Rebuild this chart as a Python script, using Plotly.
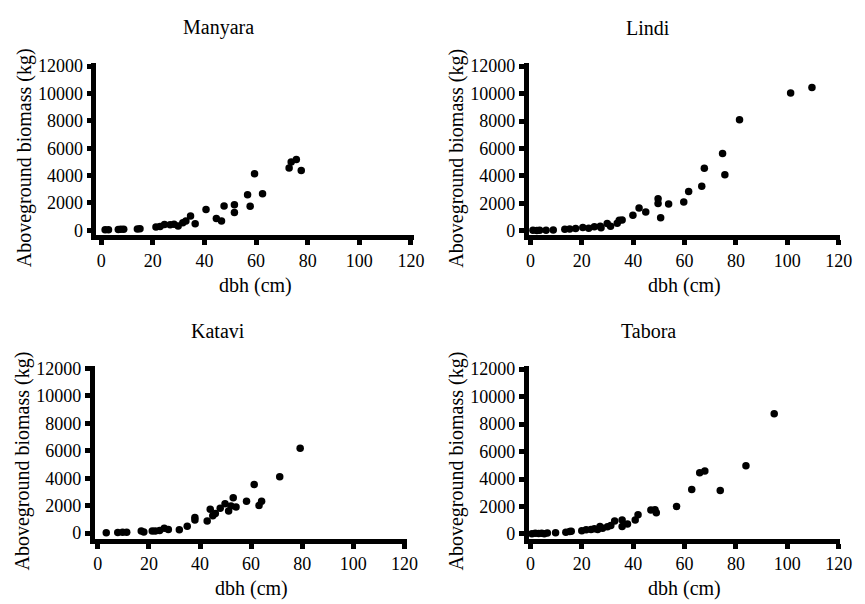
import plotly.graph_objects as go

W, H = 865, 604

# ---------------- data ----------------
manyara_dbh = [1.5, 2.8, 6.6, 7.6, 8.7, 14.0, 15.0, 21.2, 22.8, 24.5, 26.7, 28.2, 29.8, 31.6, 32.8, 34.6,
               36.4, 40.6, 44.6, 46.6, 47.6, 51.6, 51.6, 56.7, 57.7, 59.4, 62.5, 72.8, 73.6, 75.6, 77.5]
manyara_agb = [40, 50, 60, 80, 80, 100, 120, 250, 280, 430, 420, 450, 320, 560, 680, 1050,
               480, 1520, 870, 690, 1780, 1880, 1300, 2610, 1770, 4140, 2680, 4560, 5000, 5170, 4380]

lindi_dbh = [1.0, 2.5, 3.6, 6.1, 8.9, 13.4, 15.3, 17.6, 20.4, 22.7, 24.9, 27.2, 27.5, 29.9, 31.2, 33.8,
             34.6, 35.7, 39.9, 42.3, 44.9, 49.7, 49.7, 50.7, 53.8, 59.7, 61.6, 66.7, 67.7, 74.8, 75.7,
             81.4, 101.3, 109.6]
lindi_agb = [40, 20, 50, 50, 60, 120, 130, 180, 250, 200, 300, 330, 230, 540, 330, 550,
             780, 800, 1130, 1660, 1370, 2340, 1990, 960, 1960, 2100, 2870, 3250, 4560, 5630, 4090,
             8090, 10040, 10440]

katavi_dbh = [3.3, 7.8, 9.7, 11.3, 17.0, 18.0, 21.3, 22.5, 24.2, 26.0, 27.6, 31.9, 35.0, 38.0, 38.0,
              42.8, 44.0, 45.0, 46.0, 47.9, 49.8, 51.2, 52.1, 53.0, 54.1, 58.2, 61.2, 63.1, 64.1, 71.2, 79.2]
katavi_agb = [30, 50, 60, 60, 150, 80, 150, 150, 200, 360, 260, 240, 500, 1140, 950,
              880, 1740, 1260, 1430, 1810, 2140, 1620, 1970, 2570, 1900, 2330, 3540, 2020, 2330, 4110, 6180]

tabora_dbh = [0.6, 1.9, 3.2, 4.4, 5.4, 6.6, 9.8, 13.8, 15.3, 15.9, 20.0, 21.7, 23.6, 24.9, 26.2, 27.1,
              28.1, 30.0, 31.3, 32.8, 35.7, 35.7, 37.8, 40.8, 41.9, 46.9, 48.5, 49.0, 56.9, 62.8, 65.9,
              67.9, 73.9, 83.9, 94.9]
tabora_agb = [20, 40, 30, 40, 20, 60, 90, 130, 180, 200, 230, 300, 320, 370, 320, 540,
              420, 520, 610, 940, 1010, 540, 720, 1010, 1390, 1740, 1760, 1550, 2000, 3240, 4450,
              4580, 3170, 4960, 8760]

sites = ["Manyara", "Lindi", "Katavi", "Tabora"]
x_ticks = [0, 20, 40, 60, 80, 100, 120]
y_ticks = [0, 2000, 4000, 6000, 8000, 10000, 12000]
x_title = "dbh (cm)"
y_title = "Aboveground biomass (kg)"

series = [(manyara_dbh, manyara_agb), (lindi_dbh, lindi_agb),
          (katavi_dbh, katavi_agb), (tabora_dbh, tabora_agb)]

# ---------------- layout geometry (pixels) ----------------
panels = [
    dict(l=95, r=418, t=57, b=233.5, xr=[-1.9, 121.1], yr=[-371, 12236], title=(219, 21)),
    dict(l=535, r=852, t=57, b=233.5, xr=[-0.65, 120.6], yr=[-335, 12245], title=(656, 21)),
    dict(l=93.3, r=411.6, t=366.5, b=543.5, xr=[-1.23, 121.2], yr=[-413, 12200], title=(219, 331)),
    dict(l=535, r=852, t=366.5, b=543.5, xr=[-0.65, 120.6], yr=[-356, 12260], title=(657, 331)),
]

FONT = "Liberation Serif"

fig = go.Figure()
annotations = []
for i, (p, (xs, ys), name) in enumerate(zip(panels, series, sites)):
    n = "" if i == 0 else str(i + 1)
    fig.add_trace(go.Scatter(
        x=xs, y=ys, mode="markers", xaxis="x" + n, yaxis="y" + n,
        marker=dict(size=7.5, color="black", line=dict(width=0)),
        showlegend=False, cliponaxis=False))
    axcommon = dict(showline=True, linewidth=4.5, linecolor="black", ticks="outside",
                    ticklen=5, tickwidth=4.5, tickcolor="black", showgrid=False, zeroline=False,
                    tickfont=dict(family=FONT, size=18, color="black"), fixedrange=True)
    fig.layout["xaxis" + n] = dict(
        domain=[p["l"] / W, p["r"] / W], range=p["xr"], anchor="y" + n,
        tickvals=x_ticks, ticktext=[str(v) for v in x_ticks], **axcommon)
    fig.layout["yaxis" + n] = dict(
        domain=[1 - p["b"] / H, 1 - p["t"] / H], range=p["yr"], anchor="x" + n,
        tickvals=y_ticks, ticktext=[str(v) for v in y_ticks], **axcommon)
    tx, ty = p["title"]
    annotations.append(dict(text=name, x=tx / W, y=1 - ty / H, xref="paper", yref="paper",
                            showarrow=False, xanchor="center", yanchor="middle",
                            font=dict(family=FONT, size=20, color="black")))
    annotations.append(dict(text=x_title, x=(p["l"] + p["r"]) / 2 / W, y=1 - (p["b"] + 51) / H,
                            xref="paper", yref="paper", showarrow=False,
                            xanchor="center", yanchor="middle",
                            font=dict(family=FONT, size=20, color="black")))
    annotations.append(dict(text=y_title, x=(p["l"] - 73) / W, y=1 - (p["t"] + 97) / H,
                            xref="paper", yref="paper", showarrow=False, textangle=-90,
                            xanchor="center", yanchor="middle",
                            font=dict(family=FONT, size=20, color="black")))

fig.update_layout(width=W, height=H, margin=dict(l=0, r=0, t=0, b=0),
                  paper_bgcolor="white", plot_bgcolor="white",
                  font=dict(family=FONT, color="black"),
                  annotations=annotations, showlegend=False)

fig.write_html("out.html", config={"displayModeBar": False})
